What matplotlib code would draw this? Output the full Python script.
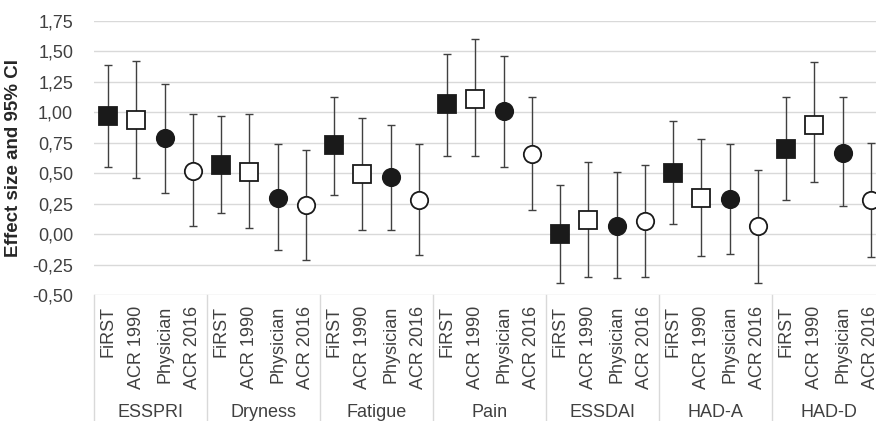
import numpy as np
import matplotlib
matplotlib.use('Agg')
import matplotlib.pyplot as plt
from matplotlib.ticker import FuncFormatter
from matplotlib.transforms import blended_transform_factory

plt.rcParams['font.family'] = ['Liberation Sans', 'DejaVu Sans']

domains = ['ESSPRI', 'Dryness', 'Fatigue', 'Pain', 'ESSDAI', 'HAD-A', 'HAD-D']
methods = ['FiRST', 'ACR 1990', 'Physician', 'ACR 2016']

# effect size, lower and upper 95% CI, one list per classification method
es_first = [0.97, 0.57, 0.73, 1.07, 0.00, 0.50, 0.70]
lo_first = [0.55, 0.17, 0.32, 0.64, -0.40, 0.08, 0.28]
hi_first = [1.39, 0.97, 1.13, 1.48, 0.40, 0.93, 1.13]

es_acr90 = [0.94, 0.51, 0.49, 1.11, 0.12, 0.30, 0.90]
lo_acr90 = [0.46, 0.05, 0.03, 0.64, -0.35, -0.18, 0.43]
hi_acr90 = [1.42, 0.99, 0.95, 1.60, 0.59, 0.78, 1.41]

es_phys = [0.79, 0.30, 0.47, 1.01, 0.07, 0.29, 0.67]
lo_phys = [0.34, -0.13, 0.03, 0.55, -0.36, -0.16, 0.23]
hi_phys = [1.23, 0.74, 0.90, 1.46, 0.51, 0.74, 1.13]

es_acr16 = [0.52, 0.24, 0.28, 0.66, 0.11, 0.07, 0.28]
lo_acr16 = [0.07, -0.21, -0.17, 0.20, -0.35, -0.40, -0.19]
hi_acr16 = [0.99, 0.69, 0.74, 1.13, 0.57, 0.53, 0.75]

series = [
    (es_first, lo_first, hi_first, 's', '#1a1a1a'),
    (es_acr90, lo_acr90, hi_acr90, 's', 'white'),
    (es_phys, lo_phys, hi_phys, 'o', '#1a1a1a'),
    (es_acr16, lo_acr16, hi_acr16, 'o', 'white'),
]

TXT = '#404040'
GRID = '#d9d9d9'
FS = 13
n_m = len(methods)

fig = plt.figure(figsize=(8.76, 4.21), dpi=100)
ax = fig.add_axes([0.1073, 0.2993, 0.903, 0.6507])

for k, (es, lo, hi, mk, fc) in enumerate(series):
    es = np.array(es)
    x = np.arange(len(domains)) * n_m + k
    yerr = [es - np.array(lo), np.array(hi) - es]
    ax.errorbar(x, es, yerr=yerr, fmt='none', ecolor=TXT, elinewidth=1.0,
                capsize=3, capthick=1.0, zorder=2)
    ax.plot(x, es, linestyle='none', marker=mk, markersize=12.5,
            markerfacecolor=fc, markeredgecolor='#1a1a1a',
            markeredgewidth=1.3, zorder=3)

ax.set_ylim(-0.5, 1.75)
ax.set_yticks(np.arange(-0.5, 1.76, 0.25))
ax.yaxis.set_major_formatter(FuncFormatter(lambda v, p: f'{v:.2f}'.replace('.', ',')))
ax.set_xlim(-0.5, len(domains) * n_m - 0.5)
ax.grid(axis='y', color=GRID, linewidth=1.0)
ax.set_axisbelow(True)
for s in ax.spines.values():
    s.set_visible(False)
ax.tick_params(axis='y', length=0, pad=15, labelsize=FS, labelcolor=TXT)
ax.tick_params(axis='x', length=0, bottom=False, labelbottom=False)
ax.set_ylabel('Effect size and 95% CI', fontsize=13.5, fontweight='bold',
              color='#262626', labelpad=7)

# two-level category axis below the plot
tr = blended_transform_factory(ax.transData, ax.transAxes)
for g, name in enumerate(domains):
    for k, m in enumerate(methods):
        ax.text(g * n_m + k, -0.04, m, transform=tr, rotation=90,
                ha='center', va='top', fontsize=FS, color=TXT)
    ax.text(g * n_m + (n_m - 1) / 2, -0.43, name, transform=tr,
            ha='center', va='center', fontsize=FS, color=TXT)
for b in np.arange(len(domains) + 1) * n_m - 0.5:
    ax.plot([b, b], [0, -0.5], transform=tr, color=GRID, linewidth=1.0,
            clip_on=False)

fig.savefig('out.png', dpi=100)
